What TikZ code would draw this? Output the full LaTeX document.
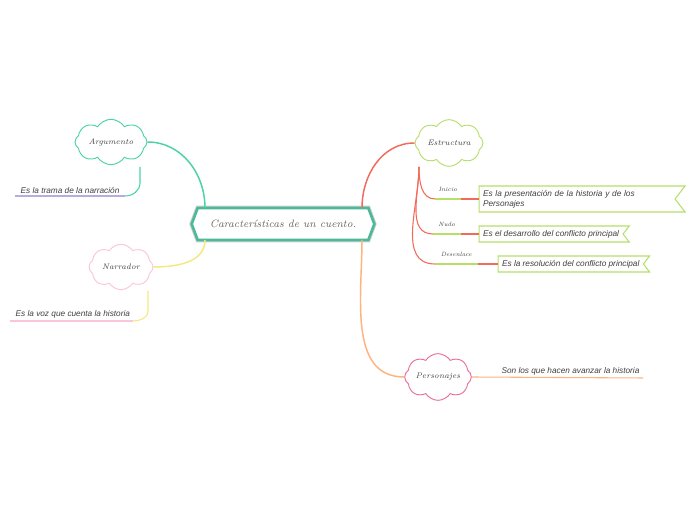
\documentclass[tikz,border=0pt]{standalone}
\usepackage{fontspec}
\setsansfont{Liberation Sans}
\usepackage{xcolor}
\definecolor{ink}{HTML}{3F3F3F}
\definecolor{jade}{HTML}{4DB89A}
\definecolor{mint}{HTML}{4CD3A4}
\definecolor{blush}{HTML}{F9C6DC}
\definecolor{lemon}{HTML}{F5E87E}
\definecolor{lime}{HTML}{B6DF6A}
\definecolor{coral}{HTML}{F26A5C}
\definecolor{rose}{HTML}{EB6E9E}
\definecolor{peach}{HTML}{FFB37D}
\definecolor{lilac}{HTML}{B7ABE2}
\usepackage{tikz}
\usetikzlibrary{positioning,calc,shapes.symbols}
\tikzset{
  root/.style={signal,signal to=west and east,signal pointer angle=139,
               draw=jade,line width=2pt,fill=white,
               preaction={draw=black!18,line width=3.4pt},
               minimum width=137pt,minimum height=24pt,inner sep=0pt,
               font=\itshape\fontsize{8}{10}\selectfont,text=ink!80},
  topic/.style={cloud,cloud puffs=8,cloud puff arc=115,cloud ignores aspect,
                line width=0.7pt,fill=white,inner sep=0pt,
                minimum width=50pt,minimum height=34pt,
                font=\itshape\fontsize{6}{8}\selectfont,text=ink},
  note/.style={font=\sffamily\itshape\fontsize{6.2}{7.6}\selectfont,text=ink,inner sep=1pt},
  detail/.style={signal,signal to=nowhere,signal from=east,signal pointer angle=105,
                 draw=lime,line width=0.8pt,fill=white,inner xsep=3pt,inner ysep=2pt,
                 align=left,anchor=west,font=\sffamily\itshape\fontsize{6.2}{7.6}\selectfont,text=ink},
  part/.style={font=\itshape\fontsize{4.6}{5}\selectfont,text=ink,inner sep=1pt,
               minimum height=14pt,anchor=south west},
  branch/.style={line width=1.1pt},
  twig/.style={line width=0.8pt},
}

\begin{document}
\begin{tikzpicture}[x=0.75pt,y=0.75pt]
  \fill[white] (0,0) rectangle (697,520);
  \node[root] (cen) at (283,296) {Características de un cuento.};
  \node[topic,draw=mint,minimum width=54pt] (arg) at (111,378) {Argumento};
  \node[topic,draw=blush,minimum width=48pt] (narr) at (121,253) {Narrador};
  \node[topic,draw=lime,minimum width=51pt,minimum height=35pt] (estr) at (449,377) {Estructura};
  \node[topic,draw=rose,minimum height=35pt] (pers) at (438,143) {Personajes};

  \coordinate (cenNW) at ($(cen)+(-78,16)$);
  \coordinate (cenSW) at ($(cen)+(-78,-16)$);
  \coordinate (cenNE) at ($(cen)+(79,16)$);
  \coordinate (cenSE) at ($(cen)+(79,-16)$);
  \draw[branch,mint] (arg.east) to[out=0,in=90] (cenNW);
  \draw[branch,lemon] (cenSW) to[out=-90,in=0] (narr.east);
  \draw[branch,coral] (cenNE) to[out=90,in=180] (estr.west);
  \draw[branch,peach] (cenSE) to[out=-90,in=180] (pers.west);

  \coordinate (argfoot) at ($(arg)+(29,-25)$);
  \coordinate (argL) at (15,324);
  \coordinate (argR) at (125,324);
  \node[note,anchor=south west] (argnote) at ($(argL)+(4,1)$) {Es la trama de la narración};
  \draw[twig,mint] (argfoot) -- ++(0,-16) to[out=-90,in=0] (argR);
  \draw[twig,lilac] (argR) -- (argL);

  \coordinate (narrfoot) at ($(narr)+(27,-24)$);
  \coordinate (narrL) at (10,199);
  \coordinate (narrR) at (133,199);
  \node[note,anchor=south west] (narrnote) at ($(narrL)+(4,1)$) {Es la voz que cuenta la historia};
  \draw[twig,lemon] (narrfoot) -- ++(0,-20) to[out=-90,in=0] (narrR);
  \draw[twig,blush] (narrR) -- (narrL);

  \coordinate (estrfoot) at ($(estr)+(-30,-24)$);
  \node[part,minimum width=18.75pt] (inicio) at (435,321) {Inicio};
  \node[part,minimum width=20.25pt] (nudo) at (433,286) {Nudo};
  \node[part,minimum width=31.5pt] (desen) at (435,256) {Desenlace};
  \node[detail,text width=141pt,minimum height=19.5pt,
        right=13.5pt of inicio.south east] (d1) {Es la presentación de la historia y de los\\Personajes};
  \node[detail,minimum height=12pt,right=13.5pt of nudo.south east] (d2) {Es el desarrollo del conflicto principal};
  \node[detail,minimum height=12pt,right=15pt of desen.south east] (d3) {Es la resolución del conflicto principal};
  \draw[twig,coral] (estrfoot) to[out=-90,in=180] (inicio.south west);
  \draw[twig,coral] (estrfoot) to[out=-90,in=180] (nudo.south west);
  \draw[twig,coral] (estrfoot) to[out=-90,in=180] (desen.south west);
  \draw[twig,lime] (inicio.south west) -- (inicio.south east);
  \draw[twig,lime] (nudo.south west) -- (nudo.south east);
  \draw[twig,lime] (desen.south west) -- (desen.south east);
  \draw[twig,coral] (inicio.south east) -- (d1.west);
  \draw[twig,coral] (nudo.south east) -- (d2.west);
  \draw[twig,coral] (desen.south east) -- (d3.west);

  \coordinate (persR) at (643,142);
  \node[note,anchor=south east] (persnote) at (641,143) {Son los que hacen avanzar la historia};
  \draw[twig,peach] (pers.east) -- (persR);
\end{tikzpicture}
\end{document}
